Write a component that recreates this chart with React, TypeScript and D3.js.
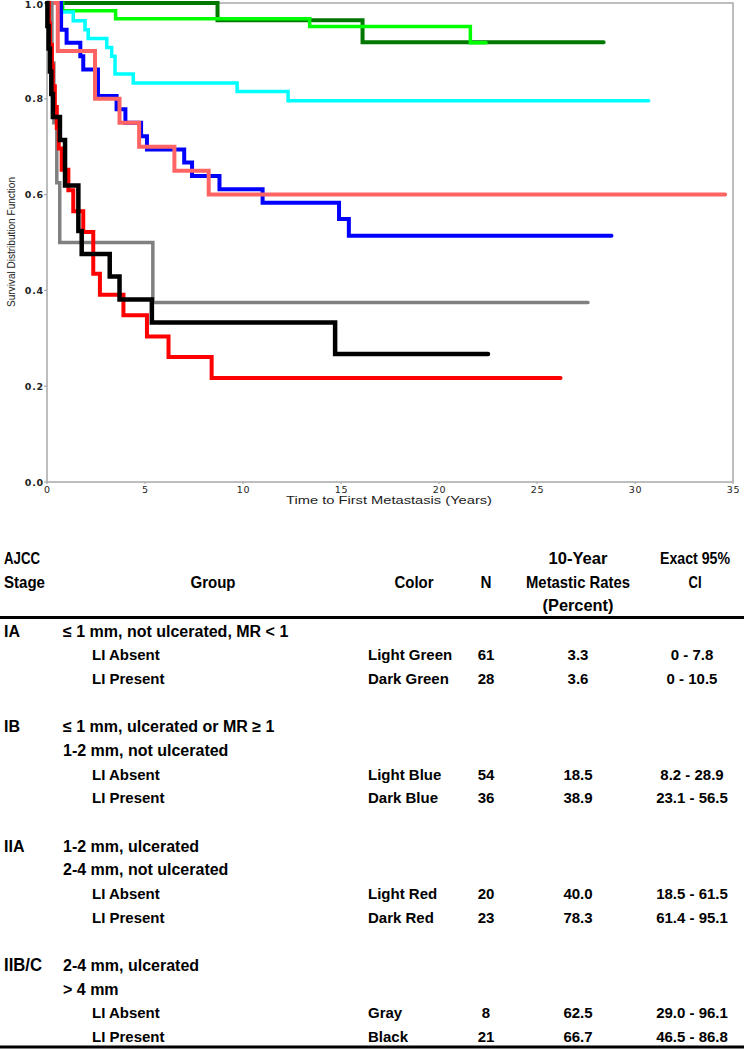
import React from "react";
import * as d3 from "d3";

// ---- Survival curves: [time (years), survival after that time]; last point = end of follow-up
const lightGreen: [number, number][] = [[0, 1], [0.8, 0.984], [3.5, 0.967], [13.4, 0.951], [21.6, 0.917], [22.4, 0.917]];
const darkGreen: [number, number][] = [[0, 1], [8.7, 0.964], [16.1, 0.918], [28.4, 0.918]];
const lightBlue: [number, number][] = [[0, 1], [0.6, 0.981], [1.34, 0.963], [1.94, 0.944], [2.1, 0.926], [3.05, 0.907], [3.3, 0.889], [3.47, 0.852], [4.4, 0.833], [9.7, 0.815], [12.3, 0.796], [30.7, 0.796]];
const darkBlue: [number, number][] = [[0, 1], [0.72, 0.944], [1.0, 0.917], [1.7, 0.889], [1.85, 0.861], [2.6, 0.806], [3.55, 0.778], [4.0, 0.75], [4.8, 0.722], [5.1, 0.694], [7.0, 0.667], [7.4, 0.639], [8.8, 0.611], [11.0, 0.583], [14.9, 0.549], [15.4, 0.514], [28.8, 0.514]];
const lightRed: [number, number][] = [[0, 1], [0.55, 0.9], [2.45, 0.8], [3.7, 0.75], [4.7, 0.7], [6.5, 0.65], [8.25, 0.6], [34.6, 0.6]];
const darkRed: [number, number][] = [[0, 1], [0.1, 0.957], [0.15, 0.913], [0.25, 0.87], [0.3, 0.826], [0.4, 0.783], [0.5, 0.739], [0.6, 0.696], [0.75, 0.652], [1.09, 0.609], [1.34, 0.565], [1.85, 0.522], [2.36, 0.435], [2.7, 0.391], [3.9, 0.348], [5.1, 0.304], [6.2, 0.261], [8.4, 0.217], [26.2, 0.217]];
const gray: [number, number][] = [[0, 1], [0.25, 0.875], [0.35, 0.75], [0.5, 0.625], [0.65, 0.5], [5.4, 0.375], [27.6, 0.375]];
const black: [number, number][] = [[0, 1], [0.02, 0.952], [0.08, 0.905], [0.15, 0.857], [0.22, 0.81], [0.3, 0.762], [0.66, 0.714], [0.92, 0.619], [1.6, 0.524], [1.77, 0.476], [3.2, 0.429], [3.7, 0.381], [5.35, 0.333], [14.7, 0.267], [22.5, 0.267]];

const seriesOrder = [darkGreen, lightGreen, lightBlue, darkBlue, lightRed, gray, darkRed, black];
const seriesColors = ["#007800", "#00ff00", "#00ffff", "#0000ff", "#ff6464", "#808080", "#ff0000", "#000000"];
const seriesWidths = [4, 3.5, 3.5, 4, 4, 3.5, 4, 4.5];

// ---- Axes
const xTicks = [0, 5, 10, 15, 20, 25, 30, 35];
const yTicks = [0, 0.2, 0.4, 0.6, 0.8, 1.0];
const yTickLabels = ["0.0", "0.2", "0.4", "0.6", "0.8", "1.0"];
const xTitle = "Time to First Metastasis (Years)";
const yTitle = "Survival Distribution Function";

// ---- Table
const headerTop = ["AJCC", "", "", "", "10-Year", "Exact 95%"];
const headerMid = ["Stage", "Group", "Color", "N", "Metastic Rates", "CI"];
const headerBot = ["", "", "", "", "(Percent)", ""];
const stageLabels = ["IA", "IB", "IIA", "IIB/C"];
const stageDescriptions = [
  ["≤ 1 mm, not ulcerated, MR < 1"],
  ["≤ 1 mm, ulcerated or MR ≥ 1", "1-2 mm, not ulcerated"],
  ["1-2 mm, ulcerated", "2-4 mm, not ulcerated"],
  ["2-4 mm, ulcerated", "> 4 mm"],
];
const liLabels = ["LI Absent", "LI Present"];
const colorNames = ["Light Green", "Dark Green", "Light Blue", "Dark Blue", "Light Red", "Dark Red", "Gray", "Black"];
const nValues = ["61", "28", "54", "36", "20", "23", "8", "21"];
const rateValues = ["3.3", "3.6", "18.5", "38.9", "40.0", "78.3", "62.5", "66.7"];
const ciValues = ["0 - 7.8", "0 - 10.5", "8.2 - 28.9", "23.1 - 56.5", "18.5 - 61.5", "61.4 - 95.1", "29.0 - 96.1", "46.5 - 86.8"];

// condensed-header widths (layout, px)
const headerWidths: Record<string, number> = {
  AJCC: 36, Stage: 41, Group: 45, Color: 39, N: 11, "10-Year": 59,
  "Metastic Rates": 104, "(Percent)": 71, "Exact 95%": 70, CI: 13,
};

export default function App() {
  const x = d3.scaleLinear().domain([0, 35]).range([47, 733]);
  const y = d3.scaleLinear().domain([0, 1]).range([482, 3]);
  const line = d3
    .line<[number, number]>()
    .x((d) => x(d[0]))
    .y((d) => y(d[1]))
    .curve(d3.curveStepAfter);

  const frame = "#a8a8a8";
  const bodyFont = "'Liberation Sans', Arial, sans-serif";
  const narrowFont = "'Liberation Sans Narrow', 'Arial Narrow', 'Liberation Sans', sans-serif";

  // table rows
  const rowH = 23.86;
  const firstRow = 631;
  const rowY = (i: number) => firstRow + i * rowH;
  const rows: JSX.Element[] = [];
  let idx = 0;
  stageLabels.forEach((st, si) => {
    const narrow = st === "IIB/C";
    rows.push(
      <text key={"st" + si} x={4} y={rowY(idx) + 5.8} fontFamily={narrow ? narrowFont : bodyFont}
        fontSize={narrow ? 17.5 : 16} fontWeight="bold" textLength={narrow ? 38 : undefined}
        lengthAdjust={narrow ? "spacingAndGlyphs" : undefined}>
        {st}
      </text>
    );
    stageDescriptions[si].forEach((desc, di) => {
      rows.push(
        <text key={"d" + si + di} x={63} y={rowY(idx) + 5.8} fontFamily={bodyFont} fontSize={16} fontWeight="bold">
          {desc}
        </text>
      );
      idx++;
    });
    liLabels.forEach((li, li2) => {
      const k = si * 2 + li2;
      const yy = rowY(idx) + 5.4;
      rows.push(
        <g key={"r" + k} fontFamily={bodyFont} fontSize={15} fontWeight="bold">
          <text x={92} y={yy}>{li}</text>
          <text x={368} y={yy}>{colorNames[k]}</text>
          <text x={486} y={yy} textAnchor="middle">{nValues[k]}</text>
          <text x={578} y={yy} textAnchor="middle">{rateValues[k]}</text>
          <text x={692} y={yy} textAnchor="middle">{ciValues[k]}</text>
        </g>
      );
      idx++;
    });
    idx++;
  });

  const headerX = [4, 213, 414, 486, 578, 695];
  const headerAnchor = ["start", "middle", "middle", "middle", "middle", "middle"];
  const headerLines = [headerTop, headerMid, headerBot];
  const headerY = [558, 582, 605];

  return (
    <svg width={744} height={1050} style={{ position: "absolute", left: 0, top: 0, background: "#fff" }}>
      <rect x={0} y={0} width={744} height={1050} fill="#fff" />
      {/* plot frame */}
      <rect x={x(0)} y={y(1)} width={x(35) - x(0)} height={y(0) - y(1)} fill="none" stroke={frame} strokeWidth={1.5} />
      {/* ticks */}
      {yTicks.map((t, i) => (
        <g key={"yt" + i}>
          <line x1={x(0) - 3} x2={x(0)} y1={y(t)} y2={y(t)} stroke={frame} strokeWidth={1.2} />
          <text x={44} y={Math.max(y(t) + 3.6, 7.8)} textAnchor="end" fontFamily="'DejaVu Sans', Verdana, sans-serif" fontSize={9.5}
            fontWeight="bold" letterSpacing={0.8} fill="#222">
            {yTickLabels[i]}
          </text>
        </g>
      ))}
      {xTicks.map((t, i) => (
        <g key={"xt" + i}>
          <line x1={x(t)} x2={x(t)} y1={y(0)} y2={y(0) + 2} stroke={frame} strokeWidth={1.2} />
          <text x={x(t) + 0.5} y={493} textAnchor="middle" fontFamily="'DejaVu Sans', Verdana, sans-serif" fontSize={9.5}
            letterSpacing={0.8} fill="#222">
            {String(t)}
          </text>
        </g>
      ))}
      <text x={389} y={503.5} textAnchor="middle" fontFamily="'Liberation Sans', Arial, sans-serif" fontSize={10.5}
        textLength={206} lengthAdjust="spacingAndGlyphs" fill="#222">
        {xTitle}
      </text>
      <text transform="translate(14.5,242) rotate(-90)" textAnchor="middle" fontFamily="'Liberation Sans', Arial, sans-serif"
        fontSize={10} textLength={130} lengthAdjust="spacingAndGlyphs" fill="#222">
        {yTitle}
      </text>
      {/* curves */}
      {seriesOrder.map((s, i) => (
        <path key={"s" + i} d={line(s) || ""} fill="none" stroke={seriesColors[i]} strokeWidth={seriesWidths[i]}
          strokeLinejoin="miter" strokeLinecap="round" />
      ))}
      {/* table header */}
      {headerLines.map((ln, li) =>
        ln.map((t, ci) =>
          t ? (
            <text key={"h" + li + "_" + ci} x={headerX[ci]} y={headerY[li] + 6} textAnchor={headerAnchor[ci] as any}
              fontFamily={narrowFont} fontSize={17} fontWeight="bold"
              textLength={headerWidths[t]} lengthAdjust="spacingAndGlyphs">
              {t}
            </text>
          ) : null
        )
      )}
      <line x1={0} x2={744} y1={617.5} y2={617.5} stroke="#000" strokeWidth={3} />
      {rows}
      <line x1={0} x2={744} y1={1047} y2={1047} stroke="#000" strokeWidth={3} />
    </svg>
  );
}
